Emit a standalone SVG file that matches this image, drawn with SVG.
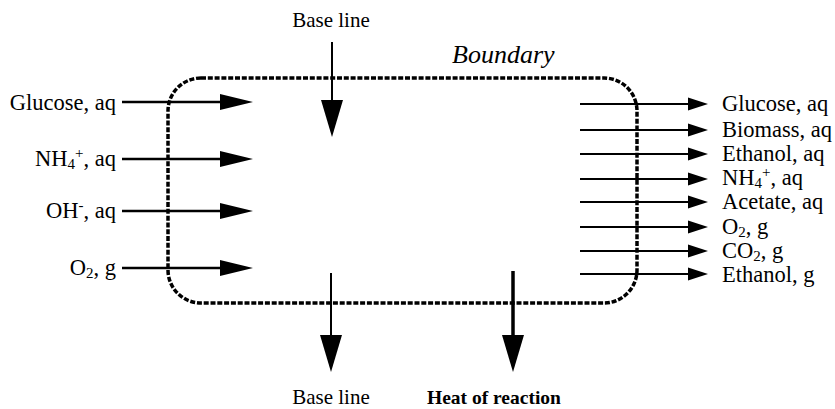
<svg xmlns="http://www.w3.org/2000/svg" width="835" height="409" viewBox="0 0 835 409">
  <style>
    text { font-family: "Liberation Serif", "Times New Roman", serif; font-size: 21px; fill: #000; }
    .lbl { font-size: 22.5px; }
    .end { text-anchor: end; }
    .mid { text-anchor: middle; }
    .sub { font-size: 15px; }
    .flow { stroke: #000; stroke-width: 2.5; fill: none; }
    .out { stroke: #000; stroke-width: 2; fill: none; }
    .boundary { fill: none; stroke: #000; stroke-width: 3.5; stroke-dasharray: 5 1.8; }
  </style>
  <defs>
    <marker id="head-in" markerUnits="userSpaceOnUse" markerWidth="36" markerHeight="20" refX="0" refY="8" orient="auto" viewBox="0 0 36 16" overflow="visible">
      <path d="M0,0 L33,8 L0,16 z" fill="#000"/>
    </marker>
    <marker id="head-out" markerUnits="userSpaceOnUse" markerWidth="22" markerHeight="14" refX="0" refY="6.5" orient="auto" viewBox="0 0 22 13" overflow="visible">
      <path d="M0,0 L20,6.5 L0,13 z" fill="#000"/>
    </marker>
    <marker id="head-down" markerUnits="userSpaceOnUse" markerWidth="40" markerHeight="24" refX="0" refY="11" orient="auto" viewBox="0 0 40 22" overflow="visible">
      <path d="M0,0 L37,11 L0,22 z" fill="#000"/>
    </marker>
  </defs>

  <!-- system boundary -->
  <g id="boundary">
    <rect class="boundary" x="168" y="78" width="469" height="225" rx="33" ry="33"/>
    <text x="452" y="63" style="font-style: italic; font-size: 26px;">Boundary</text>
  </g>

  <!-- flow arrows -->
  <g id="connectors">
    <!-- inputs -->
    <line class="flow" x1="122" y1="102" x2="220" y2="102" marker-end="url(#head-in)"/>
    <line class="flow" x1="122" y1="159" x2="220" y2="159" marker-end="url(#head-in)"/>
    <line class="flow" x1="122" y1="211" x2="220" y2="211" marker-end="url(#head-in)"/>
    <line class="flow" x1="122" y1="268" x2="220" y2="268" marker-end="url(#head-in)"/>
    <!-- outputs -->
    <line class="out" x1="580" y1="104" x2="688" y2="104" marker-end="url(#head-out)"/>
    <line class="out" x1="580" y1="130" x2="688" y2="130" marker-end="url(#head-out)"/>
    <line class="out" x1="580" y1="154" x2="688" y2="154" marker-end="url(#head-out)"/>
    <line class="out" x1="580" y1="179" x2="688" y2="179" marker-end="url(#head-out)"/>
    <line class="out" x1="580" y1="202" x2="688" y2="202" marker-end="url(#head-out)"/>
    <line class="out" x1="580" y1="227" x2="688" y2="227" marker-end="url(#head-out)"/>
    <line class="out" x1="580" y1="251" x2="688" y2="251" marker-end="url(#head-out)"/>
    <line class="out" x1="580" y1="274" x2="688" y2="274" marker-end="url(#head-out)"/>
    <!-- base lines and heat -->
    <line class="out" x1="332" y1="42" x2="332" y2="100" marker-end="url(#head-down)"/>
    <line class="out" x1="331" y1="273" x2="331" y2="335" marker-end="url(#head-down)"/>
    <line x1="513" y1="271" x2="513" y2="335" stroke="#000" stroke-width="3.5" marker-end="url(#head-down)"/>
  </g>

  <!-- input labels -->
  <g id="in-glucose"><text class="lbl end" x="116" y="109.5">Glucose, aq</text></g>
  <g id="in-ammonium"><text class="lbl end" x="116" y="166">NH<tspan class="sub" dy="3">4</tspan><tspan class="sub" dy="-11">+</tspan><tspan dy="8">, aq</tspan></text></g>
  <g id="in-hydroxide"><text class="lbl end" x="116" y="218">OH<tspan class="sub" dy="-8">-</tspan><tspan dy="8">, aq</tspan></text></g>
  <g id="in-oxygen"><text class="lbl end" x="116" y="275">O<tspan class="sub" dy="3">2</tspan><tspan dy="-3">, g</tspan></text></g>

  <!-- output labels -->
  <g id="out-glucose"><text class="lbl" x="722" y="111">Glucose, aq</text></g>
  <g id="out-biomass"><text class="lbl" x="722" y="137">Biomass, aq</text></g>
  <g id="out-ethanol-aq"><text class="lbl" x="722" y="161">Ethanol, aq</text></g>
  <g id="out-ammonium"><text class="lbl" x="722" y="185">NH<tspan class="sub" dy="3">4</tspan><tspan class="sub" dy="-11">+</tspan><tspan dy="8">, aq</tspan></text></g>
  <g id="out-acetate"><text class="lbl" x="722" y="209">Acetate, aq</text></g>
  <g id="out-oxygen"><text class="lbl" x="722" y="234">O<tspan class="sub" dy="3">2</tspan><tspan dy="-3">, g</tspan></text></g>
  <g id="out-co2"><text class="lbl" x="722" y="258">CO<tspan class="sub" dy="3">2</tspan><tspan dy="-3">, g</tspan></text></g>
  <g id="out-ethanol-g"><text class="lbl" x="722" y="282">Ethanol, g</text></g>

  <!-- base line and heat labels -->
  <g id="baseline-top"><text class="mid" x="331" y="27">Base line</text></g>
  <g id="baseline-bottom"><text class="mid" x="331" y="404">Base line</text></g>
  <g id="heat"><text x="427" y="404" style="font-weight: bold; font-size: 19.5px;">Heat of reaction</text></g>
</svg>
